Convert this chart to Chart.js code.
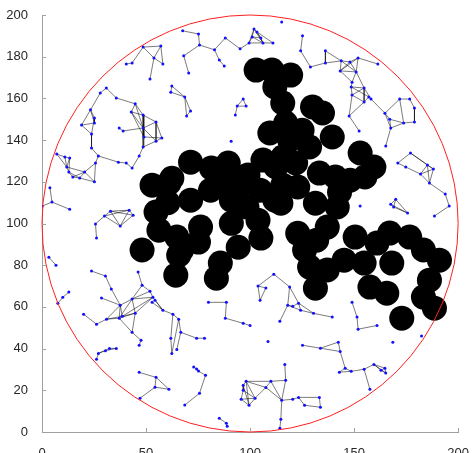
<!DOCTYPE html>
<html>
<head>
<meta charset="utf-8">
<script src="https://cdn.jsdelivr.net/npm/chart.js@4/dist/chart.umd.min.js"></script>
<style>
  body { margin: 0; background: #fff; }
  canvas { display: block; }
</style>
</head>
<body>
<canvas id="net" width="475" height="453"></canvas>
<script>
'use strict';

// axis ticks
var xTicks = [0, 50, 100, 150, 200];
var yTicks = [0, 20, 40, 60, 80, 100, 120, 140, 160, 180, 200];

// field boundary (circle)
var fieldCenter = [100, 100];
var fieldRadius = 100;

// big (black) nodes
var bigNodes = [
    [102.9, 173.6], [110.5, 173.6], [119.5, 171.2], [111.9, 165.5], [115.7, 157.8], [117.1, 148.2],
    [130, 155.9], [134.8, 153], [109.5, 143.4], [119, 140], [128.6, 136.7], [139.5, 141.5],
    [115.7, 131.9], [112.4, 127.1], [121.9, 129], [152.9, 133.8], [159.5, 127.1], [133.3, 124.2],
    [141, 122.3], [148.1, 120.8], [155.2, 122.3], [125, 144.7],
    [52.9, 118.4], [61, 119.3], [62.4, 121.7], [71.4, 129.4], [81.4, 126.6], [89.5, 129],
    [71.4, 111.2], [54.8, 105.5], [56.2, 96.8], [48.1, 87.3], [64.8, 93.5], [67.1, 87.3],
    [76.2, 98.3], [75.2, 91.1], [65.7, 84.8], [64.3, 75.2], [85.7, 81], [83.8, 73.8],
    [94.3, 88.6], [105.2, 93], [103.8, 101.6], [91, 100.1], [91, 111.2], [111.9, 111.2],
    [122.9, 117.5], [114.8, 109.7], [122.9, 95.3], [126.2, 87.3], [128.6, 79.1], [131.4, 69],
    [137.1, 77.7], [141.9, 107.9], [137.1, 98.3], [150.5, 93.5], [145.2, 82.4], [154.8, 81],
    [161, 90.6], [167.1, 95.4], [176.7, 93.5], [183.3, 87.3], [191, 82.4], [168.1, 81],
    [157.6, 69.5], [165.7, 66.6], [172.9, 54.6], [186.2, 72.8], [183.3, 64.7], [188.6, 59.4],
    [96.7, 119.3], [104.8, 116], [81, 116], [87.1, 118.4], [94.3, 121.7], [115.7, 118.4], [131.4, 109.7],
    [99, 123.3], [106.2, 130.4], [60.5, 110], [98.5, 108], [132, 92], [143, 115]
];

// small (blue) nodes and their links, one group at a time
var capNodes = [
    [67.6, 192.4], [75.2, 190.9], [75.7, 185.6], [68.1, 180.4], [70.5, 172.2], [82.9, 183.3],
    [85.2, 178.4], [87.6, 175.5], [88.1, 189], [95.2, 183.8],
    [101.9, 193.3], [103.3, 191.9], [99.5, 186.6], [106.2, 186.6], [111, 186.6], [105.2, 189], [101, 189.5]
];
var capLinks = [
    [0, 1], [1, 2], [2, 3], [3, 4], [2, 5], [5, 6], [6, 7], [5, 8], [8, 9], [9, 12],
    [10, 11], [10, 12], [10, 13], [11, 13], [11, 15], [12, 16], [16, 15], [15, 13], [13, 14],
    [11, 14], [12, 13], [16, 13], [10, 16]
];

var arcNodes = [[40.5, 176.5], [43.3, 177], [48.6, 184.6], [57.1, 185.1], [53.8, 179.4], [58.1, 176.5], [51.9, 169.3]];
var arcLinks = [[0, 1], [1, 2], [2, 3], [3, 4], [2, 4], [3, 5], [4, 5], [4, 6]];

var kiteNodes = [[62.4, 165.9], [61.9, 163], [68.6, 160.7], [71.4, 154], [69.5, 151.6]];
var kiteLinks = [[0, 1], [0, 2], [1, 2], [2, 3], [3, 4], [2, 4]];

var ringNodes = [
    [30.9, 165], [28, 162.6], [35.7, 160.2], [44.8, 157.4], [23.3, 154.5], [25.2, 150.6],
    [25.2, 148.2], [19, 147.2], [23.8, 142.9], [37.1, 145.8], [39, 144.4], [48.6, 152],
    [42.9, 153.5], [54.8, 148.7], [48.6, 145.8], [57.6, 141], [54.8, 139.5], [49, 141.5],
    [48.6, 136.7], [46.7, 132.4], [43.3, 126.6], [40.5, 129], [36.7, 129.4], [27.1, 132.4],
    [23.8, 136.2], [25.7, 129], [25.2, 120], [20.5, 124.7], [14.8, 122.3], [18.1, 121.8],
    [13.3, 131.4], [11, 131.9], [7.1, 133.3], [11.9, 127.1], [12.9, 124.7]
];
var ringLinks = [
    [0, 2], [2, 3], [0, 1], [1, 4], [4, 5], [4, 6], [5, 6], [6, 7], [7, 4], [7, 8], [8, 5],
    [8, 24], [24, 23], [23, 22], [22, 21], [21, 20], [20, 19], [19, 18], [18, 17], [17, 14],
    [14, 16], [16, 15], [15, 13], [13, 11], [11, 3], [3, 12], [12, 11], [11, 14], [13, 14],
    [12, 14], [11, 17], [13, 16], [15, 17], [14, 18], [9, 10], [10, 14], [23, 25], [25, 26],
    [26, 27], [27, 28], [27, 29], [28, 29], [26, 29], [30, 31], [31, 32], [30, 33], [33, 34],
    [34, 28], [30, 34], [32, 33], [31, 33], [33, 27], [34, 29], [25, 27], [3, 14], [12, 17], [18, 16]
];

var edgeNodes = [[3.8, 117.2], [0, 108.3], [4.8, 110.3], [13.3, 106.8]];
var edgeLinks = [[1, 2], [0, 2], [2, 3]];

var boxNodes = [[32.9, 105.9], [41.9, 106.4], [43.8, 104], [30, 103.6], [37.6, 98.8], [25.7, 99.8], [26.2, 93.1]];
var boxLinks = [[0, 1], [0, 2], [1, 2], [0, 3], [3, 4], [0, 4], [1, 4], [2, 4], [3, 1], [5, 6], [5, 3]];

var tinyNodes = [[96.7, 159.7], [98.1, 156.3], [93.8, 156.3], [92.9, 152]];
var tinyLinks = [[0, 1], [0, 2], [1, 2], [2, 3]];

var northNodes = [
    [125.2, 190], [124.3, 182.8], [129, 175.1], [136.2, 182.8], [136.2, 177], [143.8, 178],
    [148, 177.5], [151.9, 179.4], [161.4, 176.5], [143.3, 173.2], [151, 172.7], [149, 167.8],
    [148.6, 165.5], [154.8, 165], [149, 161.6], [154.8, 158.3], [157.1, 160.7], [158.1, 159.7],
    [147.6, 151.6], [152.4, 144.4],
    [164.8, 152.9], [167.1, 150], [167.6, 145.8], [171.9, 159.7], [176.7, 159.7], [179, 155.4],
    [179, 148.7], [173.8, 148.2], [165.2, 137.2]
];
var northLinks = [
    [0, 1], [1, 2], [2, 4], [4, 5], [3, 5], [3, 4], [5, 6], [6, 7], [7, 8], [5, 9], [9, 10],
    [6, 10], [7, 10], [5, 10], [9, 11], [10, 11], [11, 12], [12, 13], [10, 13], [12, 14],
    [13, 14], [14, 15], [13, 15], [15, 16], [16, 17], [13, 17], [12, 16], [14, 18], [18, 19],
    [15, 18], [7, 9], [6, 9], [17, 20],
    [20, 21], [21, 22], [20, 23], [23, 24], [24, 25], [25, 26], [26, 27], [27, 22], [21, 27],
    [22, 28], [20, 22], [23, 27]
];

var eastNodes = [
    [177.1, 133.8], [171, 129], [174.8, 127.1], [185.2, 128.1], [188.1, 126.1], [181.9, 123.7],
    [186.2, 119.4], [193.8, 114.1], [195.7, 108.4], [188.6, 103.6]
];
var eastLinks = [[0, 1], [1, 2], [0, 3], [0, 4], [3, 4], [3, 5], [4, 5], [2, 5], [5, 6], [4, 6], [3, 6], [6, 7], [7, 8], [8, 9]];

var wedgeNodes = [[170, 111.6], [167.6, 109.2], [169, 107.9], [175.7, 105]];
var wedgeLinks = [[0, 1], [0, 2], [1, 2], [0, 3], [2, 3], [1, 3]];

var shoreNodes = [[3.3, 83.8], [6.7, 80], [7.6, 61.8], [10, 64.6], [12.9, 67.1]];
var shoreLinks = [[0, 1], [2, 3], [3, 4]];

var westNodes = [
    [23.8, 77.2], [30.5, 74.8], [33.3, 68.6], [28.6, 64.3], [20, 56.5], [26.2, 51.7],
    [31, 54.1], [37.6, 60.8], [37.1, 54.6], [38.6, 55.5], [43.3, 63.8], [44.8, 57],
    [43.3, 47.8], [47.6, 44], [46.7, 41.6], [46.2, 76.7], [48.1, 70.4], [51.9, 67.5],
    [53.3, 64.6], [52.9, 62.2], [54.3, 63.2], [58.1, 58.4], [62.9, 56.5], [65.7, 54.1],
    [66.7, 47.8], [61.9, 45], [62.4, 37.7], [64.8, 39.6], [74.3, 45], [78.1, 45]
];
var westLinks = [
    [0, 1], [1, 2], [2, 7], [3, 7], [4, 5], [5, 6], [6, 8], [6, 7], [7, 10], [7, 9], [8, 12],
    [9, 11], [10, 11], [10, 16], [10, 17], [10, 18], [11, 18], [9, 18], [8, 10], [11, 12],
    [12, 13], [13, 14], [15, 16], [16, 17], [17, 18], [18, 21], [20, 21], [19, 21], [21, 22],
    [22, 23], [23, 24], [23, 26], [25, 26], [25, 22], [24, 27], [24, 28], [28, 29], [7, 8],
    [6, 9], [8, 11]
];

var hookNodes = [[27.1, 37.7], [32.4, 40.1], [35.7, 40.1], [26.2, 34.9], [30.5, 39]];
var hookLinks = [[3, 0], [0, 1], [1, 2], [0, 4], [4, 2]];

var southNodes = [
    [46.7, 28.6], [54.8, 26.2], [54.3, 21.5], [61, 20.5], [47.1, 16.2],
    [72.9, 31.2], [74.3, 30.2], [75.2, 29.2], [78.6, 27.2], [75.7, 18.6], [68.6, 12.9],
    [85.2, 6.6], [88.6, 4.2], [89, 2.7]
];
var southLinks = [[0, 1], [1, 2], [2, 4], [2, 3], [1, 3], [5, 6], [6, 7], [7, 8], [8, 9], [9, 10], [11, 12], [12, 13]];

var midNodes = [
    [80, 62.2], [88.6, 62.2], [88.1, 54.6], [96.7, 52.1], [100, 51.1],
    [103.8, 70], [107.6, 69.1], [104.8, 63.2], [111.4, 75.7], [119, 69.6], [118.1, 60.8],
    [124.3, 58.4], [120.5, 60.3], [123.3, 61.8], [130.5, 56.9], [139.5, 55.1], [114.3, 53.1],
    [149, 62.2], [151.4, 55.1], [151.9, 49.3], [161, 51.1]
];
var midLinks = [
    [0, 1], [1, 2], [2, 3], [3, 4],
    [5, 6], [5, 7], [6, 7], [5, 8], [8, 9], [9, 10], [9, 13], [10, 12], [12, 13], [10, 11],
    [13, 11], [11, 14], [14, 15], [16, 10], [13, 14],
    [17, 18], [18, 19], [19, 20]
];

var lowerNodes = [
    [125.2, 41.6], [133.8, 40.2], [142.4, 43.1], [143.3, 38.6], [145.7, 30.6], [142.9, 28.7],
    [148.6, 29.1], [154.8, 30.1], [157.6, 20.5], [159.5, 32.4], [164.8, 30.6], [165.2, 28.3], [162.9, 29.6]
];
var lowerLinks = [
    [0, 1], [1, 2], [1, 3], [2, 3], [3, 4], [4, 5], [4, 6], [6, 7], [7, 8], [7, 9], [9, 10],
    [9, 11], [10, 11], [12, 9], [12, 10], [12, 11], [5, 6]
];

var baseNodes = [
    [98.1, 24.3], [96.7, 22.4], [96.7, 20], [95.7, 15.7], [99.5, 12.8], [102.4, 16.2],
    [107.6, 21.4], [110, 24.3], [117.1, 24.8], [116.7, 32.4], [115.2, 15.2], [120.5, 15.7],
    [123.3, 16.6], [126.2, 12.8], [133.3, 16.6], [133.8, 11.9], [114.8, 6.1], [114.3, 1.8]
];
var baseLinks = [
    [0, 1], [1, 2], [2, 3], [3, 4], [0, 5], [1, 4], [2, 5], [3, 5], [4, 5], [0, 4], [5, 6],
    [6, 7], [7, 8], [0, 6], [0, 7], [6, 10], [7, 10], [8, 10], [8, 9], [10, 11], [11, 12],
    [12, 13], [12, 14], [14, 15], [13, 15], [10, 16], [16, 17]
];

var loneNodes = [[115.2, 196.7], [102.9, 134.7], [152.9, 108.4], [90.9, 139.5], [182.4, 46], [108.6, 43.4], [168.6, 43]];

var groups = [
    [capNodes, capLinks], [arcNodes, arcLinks], [kiteNodes, kiteLinks], [ringNodes, ringLinks],
    [edgeNodes, edgeLinks], [boxNodes, boxLinks], [tinyNodes, tinyLinks], [northNodes, northLinks],
    [eastNodes, eastLinks], [wedgeNodes, wedgeLinks], [shoreNodes, shoreLinks], [westNodes, westLinks],
    [hookNodes, hookLinks], [southNodes, southLinks], [midNodes, midLinks], [lowerNodes, lowerLinks],
    [baseNodes, baseLinks], [loneNodes, []]
];

// build datasets
var pt = function(p) { return { x: p[0], y: p[1] }; };
var bluePoints = [];
var linkSegments = [];
groups.forEach(function(g) {
    var nodes = g[0];
    nodes.forEach(function(p) { bluePoints.push(pt(p)); });
    g[1].forEach(function(l) {
        linkSegments.push(pt(nodes[l[0]]), pt(nodes[l[1]]), { x: null, y: null });
    });
});

// red boundary + MATLAB-like inward ticks
var fieldPlugin = {
    id: 'field',
    afterDatasetsDraw: function(chart) {
        var ctx = chart.ctx;
        var xs = chart.scales.x, ys = chart.scales.y;
        var cx = xs.getPixelForValue(fieldCenter[0]);
        var cy = ys.getPixelForValue(fieldCenter[1]);
        var rx = xs.getPixelForValue(fieldCenter[0] + fieldRadius) - cx;
        var ry = cy - ys.getPixelForValue(fieldCenter[1] + fieldRadius);
        ctx.save();
        ctx.strokeStyle = '#ff2020';
        ctx.lineWidth = 1;
        ctx.beginPath();
        ctx.ellipse(cx, cy, rx, ry, 0, 0, Math.PI * 2);
        ctx.stroke();

        ctx.strokeStyle = '#a0a0a0';
        ctx.beginPath();
        xTicks.forEach(function(v) {
            var px = Math.round(xs.getPixelForValue(v)) + 0.5;
            ctx.moveTo(px, ys.bottom);
            ctx.lineTo(px, ys.bottom - 4);
        });
        yTicks.forEach(function(v) {
            var py = Math.round(ys.getPixelForValue(v)) + 0.5;
            ctx.moveTo(xs.left, py);
            ctx.lineTo(xs.left + 4, py);
        });
        ctx.stroke();
        ctx.restore();
    }
};

var tickFont = { family: "'Liberation Sans', Arial, sans-serif", size: 13 };

new Chart(document.getElementById('net').getContext('2d'), {
    type: 'scatter',
    data: {
        datasets: [{
            data: bigNodes.map(pt),
            pointRadius: 12.5,
            pointBackgroundColor: '#000',
            pointBorderWidth: 0,
            order: 1
        }, {
            data: bluePoints,
            pointRadius: 1.5,
            pointBackgroundColor: '#1010ff',
            pointBorderWidth: 0,
            order: 2
        }, {
            data: linkSegments,
            showLine: true,
            spanGaps: false,
            pointRadius: 0,
            borderColor: 'rgba(0,0,0,0.75)',
            borderWidth: 0.7,
            order: 3
        }]
    },
    options: {
        responsive: false,
        animation: false,
        layout: { padding: { top: 15, right: 13, left: 0, bottom: 0 } },
        plugins: { legend: { display: false }, tooltip: { enabled: false } },
        scales: {
            x: {
                type: 'linear', min: 0, max: 200,
                afterFit: function(s) { s.height = 21; },
                afterBuildTicks: function(s) { s.ticks = xTicks.map(function(v) { return { value: v }; }); },
                grid: { display: false },
                border: { display: true, color: '#a0a0a0', width: 1 },
                ticks: { font: tickFont, color: '#262626', padding: 6, maxRotation: 0 }
            },
            y: {
                type: 'linear', min: 0, max: 200,
                afterFit: function(s) { s.width = 42; },
                afterBuildTicks: function(s) { s.ticks = yTicks.map(function(v) { return { value: v }; }); },
                grid: { display: false },
                border: { display: true, color: '#a0a0a0', width: 1 },
                ticks: { font: tickFont, color: '#262626', padding: 6 }
            }
        }
    },
    plugins: [fieldPlugin]
});
</script>
</body>
</html>
